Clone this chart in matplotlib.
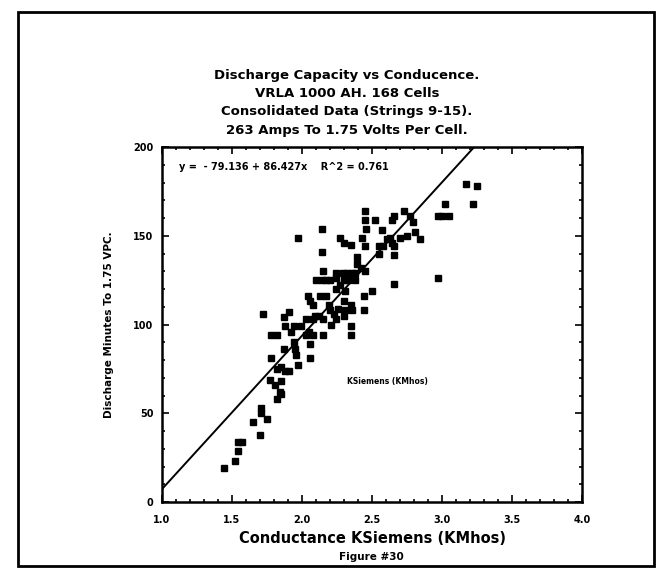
import matplotlib
matplotlib.use('Agg')
import matplotlib.pyplot as plt
from matplotlib.patches import Rectangle
from matplotlib.ticker import MultipleLocator, FixedLocator

plt.rcParams['font.family'] = ['DejaVu Sans']

# conductance (KSiemens) and discharge minutes
conductance = [
    1.44, 1.52, 1.54, 1.54, 1.57, 1.65, 1.70, 1.71, 1.71, 1.75,
    1.72, 1.78, 1.78, 1.82, 1.77, 1.81, 1.85, 1.82, 1.84, 1.85,
    1.82, 1.85, 1.88, 1.91, 1.87, 1.91, 1.88, 1.94, 1.87, 1.94,
    1.95, 1.96, 1.97, 1.92, 1.97, 1.99, 2.03, 2.06, 2.05, 2.03,
    2.06, 2.08, 2.08, 2.04, 2.06, 2.08, 2.15, 2.09, 2.12, 2.15,
    2.10, 2.14, 2.17, 2.20, 2.14, 2.14, 2.15, 2.13, 2.17, 2.19,
    2.20, 2.21, 2.24, 2.23, 2.26, 2.24, 2.27, 2.24, 2.29, 2.24,
    2.30, 2.33, 2.38, 2.27, 2.30, 2.35, 2.31, 2.30, 2.35, 2.31,
    2.30, 2.35, 2.35, 2.36, 2.32, 2.38, 2.39, 2.39, 2.36, 2.42,
    2.45, 2.43, 2.45, 2.45, 2.46, 2.45, 2.44, 2.44, 2.50, 2.52,
    2.55, 2.57, 2.55, 2.58, 2.61, 2.63, 2.64, 2.66, 2.64, 2.66,
    2.66, 2.66, 2.73, 2.77, 2.79, 2.75, 2.81, 2.84, 2.70, 2.97,
    3.00, 3.05, 3.02, 2.97, 3.17, 3.25, 3.22,
]
minutes = [
    19, 23, 29, 34, 34, 45, 38, 53, 50, 47,
    106, 81, 94, 94, 69, 66, 68, 58, 62, 61,
    75, 76, 74, 74, 104, 107, 99, 99, 86, 90,
    86, 83, 77, 96, 149, 99, 94, 89, 96, 103,
    81, 103, 94, 116, 113, 111, 94, 105, 105, 103,
    125, 125, 125, 125, 154, 141, 130, 116, 116, 111,
    108, 100, 103, 106, 109, 120, 122, 129, 129, 126,
    125, 125, 125, 149, 146, 145, 119, 113, 111, 108,
    105, 99, 94, 108, 129, 129, 134, 138, 129, 132,
    130, 149, 159, 164, 154, 144, 108, 116, 119, 159,
    144, 153, 140, 144, 148, 149, 159, 161, 146, 144,
    139, 123, 164, 161, 158, 150, 152, 148, 149, 161,
    161, 161, 168, 126, 179, 178, 168,
]

# regression from the chart
intercept = -79.136
slope = 86.427
r2 = 0.761

x_ticks = [1.0, 1.5, 2.0, 2.5, 3.0, 3.5, 4.0]
x_tick_labels = ['1.0', '1.5', '2.0', '2.5', '3.0', '3.5', '4.0']
y_ticks = [0, 50, 100, 150, 200]

title_lines = [
    'Discharge Capacity vs Conducence.',
    'VRLA 1000 AH. 168 Cells',
    'Consolidated Data (Strings 9-15).',
    '263 Amps To 1.75 Volts Per Cell.',
]

fig = plt.figure(figsize=(6.57, 5.74), dpi=100)
ax = fig.add_axes([0.2466, 0.1254, 0.6393, 0.6185])

ax.plot(conductance, minutes, 's', color='black', markersize=5, zorder=3)

fit_x = [1.0, (200 - intercept) / slope]
fit_y = [intercept + slope * v for v in fit_x]
ax.plot(fit_x, fit_y, color='black', lw=1.4, zorder=2)

ax.set_xlim(1.0, 4.0)
ax.set_ylim(0, 200)
ax.xaxis.set_major_locator(FixedLocator(x_ticks))
ax.set_xticklabels(x_tick_labels)
ax.yaxis.set_major_locator(FixedLocator(y_ticks))
ax.xaxis.set_minor_locator(MultipleLocator(0.1))
ax.yaxis.set_minor_locator(MultipleLocator(10))
ax.tick_params(which='both', direction='in', top=True, right=True, width=1.2)
ax.tick_params(which='major', length=5, labelsize=7, pad=6)
ax.tick_params(axis='x', which='major', pad=9)
ax.tick_params(which='minor', length=2.5)
for lbl in ax.get_xticklabels() + ax.get_yticklabels():
    lbl.set_fontweight('bold')
for sp in ax.spines.values():
    sp.set_linewidth(1.8)

ax.text(0.04, 0.945, 'y =  - 79.136 + 86.427x    R^2 = 0.761',
        transform=ax.transAxes, fontsize=7, fontweight='bold', va='center')
ax.text(2.32, 68, 'KSiemens (KMhos)', fontsize=5.5, fontweight='bold', va='center')

ax.set_xlabel('Conductance KSiemens (KMhos)', fontsize=10.5, fontweight='bold', labelpad=5)
ax.set_ylabel('Discharge Minutes To 1.75 VPC.', fontsize=7.5, fontweight='bold', labelpad=14)

for i, line in enumerate(title_lines):
    fig.text(0.528, 1 - (75 + i * 18.5) / 574, line, ha='center', va='center',
             fontsize=9.5, fontweight='bold')

fig.text(0.566, 1 - 557 / 574, 'Figure #30', ha='center', va='center',
         fontsize=7.5, fontweight='bold')

# scanned page border
fig.patches.append(Rectangle((18 / 657, 1 - 566 / 574), 636 / 657, 554 / 574,
                             transform=fig.transFigure, fill=False,
                             edgecolor='black', lw=2))

fig.savefig('out.png', dpi=100, facecolor='white')
